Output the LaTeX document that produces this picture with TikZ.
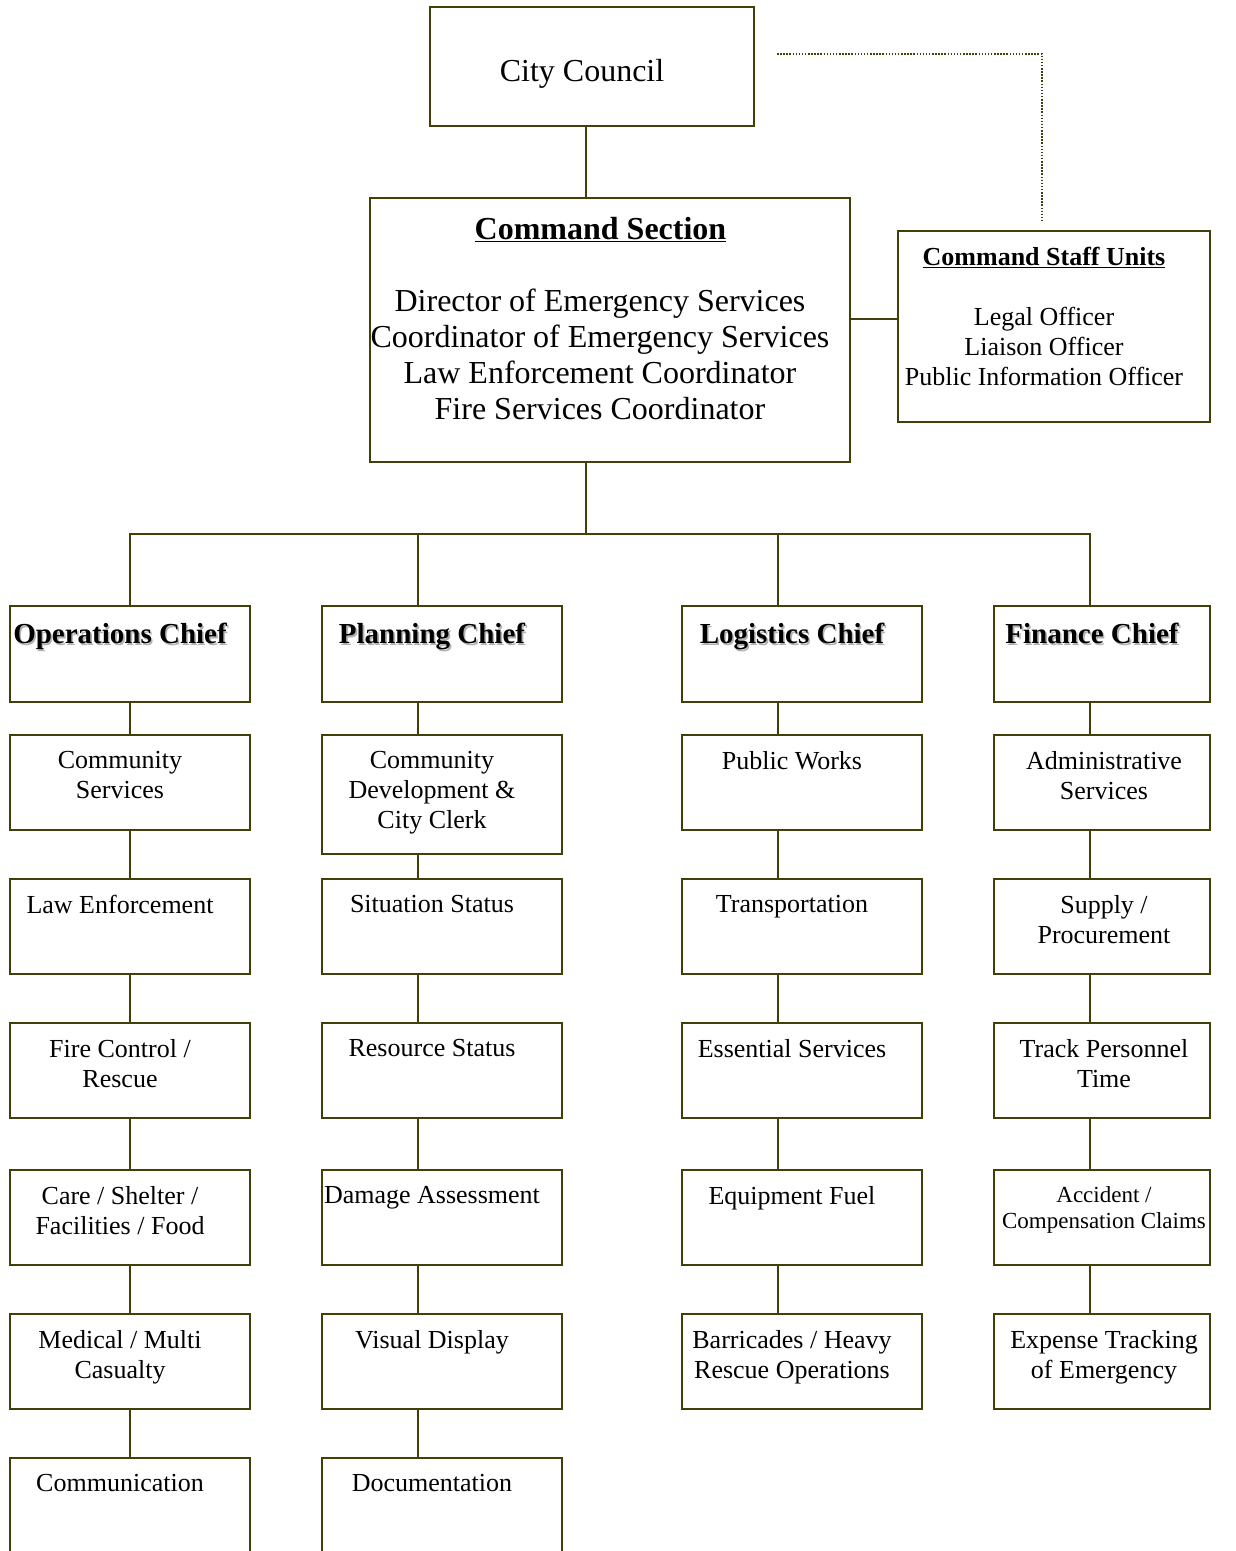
\documentclass[tikz,border=0pt]{standalone}
\usepackage{fontspec}
\setmainfont{Liberation Serif}
\usetikzlibrary{calc}
\definecolor{frame}{RGB}{64,64,8}
% bold heading with a soft offset shadow
\newcommand\shadowed[1]{\makebox[0pt][l]{\hspace{1.6pt}\raisebox{-1.6pt}{\textcolor{black!30}{#1}}}#1}
% plain box from (x1,y1) to (x2,y2)
\newcommand\orgframe[5]{%
  \node[box, minimum width={#4-#2}, minimum height={#5-#3}] (#1) at ({(#2+#4)/2},{(#3+#5)/2}) {};}
% box with its text block hanging from (tx, y1+16)
\newcommand\orgunit[7]{%
  \orgframe{#1}{#2}{#3}{#4}{#5}
  \node[txt] (#1-t) at (#6,{#3+16}) {#7};}
\begin{document}
\begin{tikzpicture}[x=1pt,y=-1pt,
  box/.style={draw=frame, line width=1.6pt, rectangle, inner sep=0pt, outer sep=0pt, fill=white},
  link/.style={draw=frame, line width=1.6pt},
  dotlink/.style={draw=frame, line width=1.9pt, dash pattern=on 1.5pt off 1.6pt},
  txt/.style={anchor=north, align=center, inner sep=0pt, font=\fontsize{26}{30}\selectfont},
  big/.style={anchor=north, align=center, inner sep=0pt, font=\fontsize{32}{36}\selectfont},
  chief/.style={anchor=north, align=center, inner sep=0pt, font=\fontsize{29}{33}\selectfont\bfseries},
  small/.style={font=\fontsize{23}{26}\selectfont}]
\useasboundingbox (0,0) rectangle (1236,1551);

% top of the chart
\orgframe{council}{430}{7}{754}{126}
\node[big] (council-t) at (582,59) {City Council};
\orgframe{cmd}{370}{198}{850}{462}
\node[big, font=\fontsize{32}{36}\selectfont\bfseries] (cmd-h) at (600.5,217) {\underline{Command Section}};
\node[big] (cmd-t) at (600,289) {Director of Emergency Services\\Coordinator of Emergency Services\\Law Enforcement Coordinator\\Fire Services Coordinator};
\orgframe{staff}{898}{231}{1210}{422}
\node[txt, font=\fontsize{26}{30}\selectfont\bfseries] (staff-h) at (1044,247) {\underline{Command Staff Units}};
\node[txt] (staff-t) at (1044,307) {Legal Officer\\Liaison Officer\\Public Information Officer};

% section chiefs
\orgframe{ops}{10}{606}{250}{702}
\node[chief] (ops-t) at (120,623) {\shadowed{Operations Chief}};
\orgframe{plan}{322}{606}{562}{702}
\node[chief] (plan-t) at (432,623) {\shadowed{Planning Chief}};
\orgframe{log}{682}{606}{922}{702}
\node[chief] (log-t) at (792,623) {\shadowed{Logistics Chief}};
\orgframe{fin}{994}{606}{1210}{702}
\node[chief] (fin-t) at (1092,623) {\shadowed{Finance Chief}};

% operations
\orgunit{o1}{10}{735}{250}{830}{120}{Community\\Services}
\orgunit{o2}{10}{879}{250}{974}{120}{Law Enforcement}
\orgunit{o3}{10}{1023}{250}{1118}{120}{Fire Control /\\Rescue}
\orgunit{o4}{10}{1170}{250}{1265}{120}{Care / Shelter /\\Facilities / Food}
\orgunit{o5}{10}{1314}{250}{1409}{120}{Medical / Multi\\Casualty}
\orgunit{o6}{10}{1458}{250}{1555}{120}{Communication}
% planning
\orgunit{p1}{322}{735}{562}{854}{432}{Community\\Development \&\\City Clerk}
\orgunit{p2}{322}{879}{562}{974}{432}{Situation Status}
\orgunit{p3}{322}{1023}{562}{1118}{432}{Resource Status}
\orgunit{p4}{322}{1170}{562}{1265}{432}{Damage Assessment}
\orgunit{p5}{322}{1314}{562}{1409}{432}{Visual Display}
\orgunit{p6}{322}{1458}{562}{1555}{432}{Documentation}
% logistics
\orgunit{l1}{682}{735}{922}{830}{792}{Public Works}
\orgunit{l2}{682}{879}{922}{974}{792}{Transportation}
\orgunit{l3}{682}{1023}{922}{1118}{792}{Essential Services}
\orgunit{l4}{682}{1170}{922}{1265}{792}{Equipment Fuel}
\orgunit{l5}{682}{1314}{922}{1409}{792}{Barricades / Heavy\\Rescue Operations}
% finance
\orgunit{f1}{994}{735}{1210}{830}{1104}{Administrative\\Services}
\orgunit{f2}{994}{879}{1210}{974}{1104}{Supply /\\Procurement}
\orgunit{f3}{994}{1023}{1210}{1118}{1104}{Track Personnel\\Time}
\orgframe{f4}{994}{1170}{1210}{1265}
\node[txt, small] (f4-t) at (1104,1186) {Accident /\\Compensation Claims};
\orgunit{f5}{994}{1314}{1210}{1409}{1104}{Expense Tracking\\of Emergency}

% connector guides
\coordinate (spine) at (586,534);
\coordinate (col1) at (130,0);
\coordinate (col2) at (418,0);
\coordinate (col3) at (778,0);
\coordinate (col4) at (1090,0);
\coordinate (sj) at (0,319);
\coordinate (dotA) at (777,54);
\coordinate (dotB) at (1042,221);

% connectors
\draw[link] (council.south -| spine) -- (cmd.north -| spine);
\draw[link] (cmd.south -| spine) -- (spine);
\draw[link] (cmd.east |- sj) -- (staff.west |- sj);
\draw[dotlink] (dotA) -| (dotB);
\draw[link] (ops.north -| col1) |- (spine) -| (fin.north -| col4);
\draw[link] (plan.north -| col2) -- (col2 |- spine);
\draw[link] (log.north -| col3) -- (col3 |- spine);

\foreach \a/\b in {ops/o1,o1/o2,o2/o3,o3/o4,o4/o5,o5/o6}
  \draw[link] (\a.south -| col1) -- (\b.north -| col1);
\foreach \a/\b in {plan/p1,p1/p2,p2/p3,p3/p4,p4/p5,p5/p6}
  \draw[link] (\a.south -| col2) -- (\b.north -| col2);
\foreach \a/\b in {log/l1,l1/l2,l2/l3,l3/l4,l4/l5}
  \draw[link] (\a.south -| col3) -- (\b.north -| col3);
\foreach \a/\b in {fin/f1,f1/f2,f2/f3,f3/f4,f4/f5}
  \draw[link] (\a.south -| col4) -- (\b.north -| col4);
\end{tikzpicture}
\end{document}
